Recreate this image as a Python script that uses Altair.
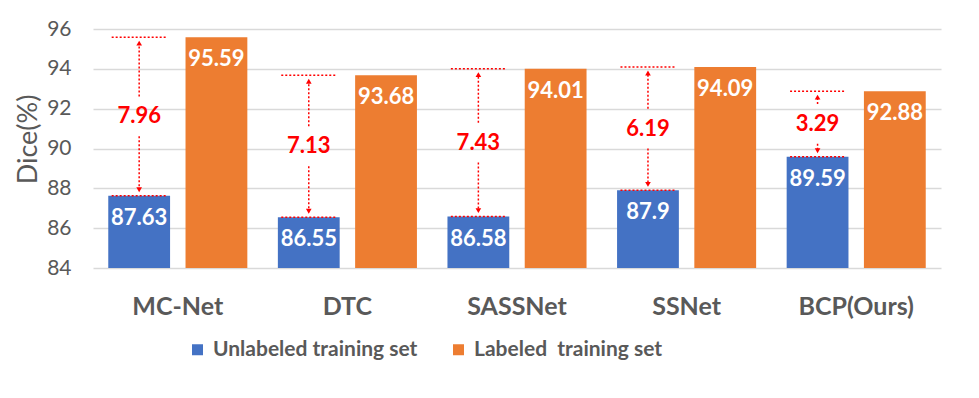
import altair as alt
import pandas as pd

# ---- data ----
methods = ["MC-Net", "DTC", "SASSNet", "SSNet", "BCP(Ours)"]
unlabeled = [87.63, 86.55, 86.58, 87.9, 89.59]
labeled = [95.59, 93.68, 94.01, 94.09, 92.88]
gap_labels = ["7.96", "7.13", "7.43", "6.19", "3.29"]
series = ["Unlabeled training set", "Labeled\u00a0 training set"]
colors = ["#4472C4", "#ED7D31"]
y_ticks = [84, 86, 88, 90, 92, 94, 96]

# ---- tables built from the arrays ----
bars = pd.DataFrame(
    [{"method": m, "series": series[0], "value": u, "txt": str(u)} for m, u in zip(methods, unlabeled)]
    + [{"method": m, "series": series[1], "value": l, "txt": str(l)} for m, l in zip(methods, labeled)]
)

GAP = 1.0      # half-height of the gap left around the red label (data units)
HEAD = 0.3     # offset of the arrow-head centre from the line (data units)
ann = pd.DataFrame({
    "method": methods,
    "series": series[0],
    "lo": unlabeled,
    "hi": labeled,
    "txt": gap_labels,
})
ann["mid"] = (ann["lo"] + ann["hi"]) / 2
ann["up_a"] = ann["mid"] + GAP
ann["up_b"] = ann["hi"] - HEAD
ann["dn_a"] = ann["mid"] - GAP
ann["dn_b"] = ann["lo"] + HEAD
ann["head_hi"] = ann["hi"] - HEAD
ann["head_lo"] = ann["lo"] + HEAD

hlines = pd.concat([
    ann[["method", "series"]].assign(val=ann["hi"]),
    ann[["method", "series"]].assign(val=ann["lo"]),
])

FONT = "Lato"
GRAY = "#595959"
RED = "#FF0000"

x_enc = alt.X(
    "method:N", sort=methods,
    scale=alt.Scale(domain=methods, paddingInner=0.18, paddingOuter=0.09),
    axis=alt.Axis(title=None, labelAngle=0, labelFontSize=25, labelFontWeight="bold",
                  labelColor=GRAY, labelFont=FONT, domain=False, ticks=False,
                  labelPadding=26, grid=False),
)
xo_enc = alt.XOffset("series:N", sort=series,
                     scale=alt.Scale(domain=series, paddingInner=0.2, paddingOuter=0))
y_scale = alt.Scale(domain=[84, 96], zero=False, nice=False)
y_axis = alt.Axis(title="Dice(%)", values=y_ticks, titleFontSize=27, titleFontWeight="normal",
                  titleColor=GRAY, titleFont=FONT, labelFontSize=21, labelColor=GRAY,
                  labelFont=FONT, domain=False, ticks=False, gridColor="#D9D9D9",
                  gridWidth=1.5, labelPadding=22, titlePadding=4, titleY=110,
                  labelOverlap=False)


def Y(field):
    return alt.Y(field, scale=y_scale, axis=y_axis)


bar_layer = alt.Chart(bars).mark_bar(clip=True).encode(
    x=x_enc, xOffset=xo_enc,
    y=Y("value:Q"),
    color=alt.Color("series:N", sort=series,
                    scale=alt.Scale(domain=series, range=colors),
                    legend=alt.Legend(title=None, orient="none", legendX=94, legendY=310,
                                      direction="horizontal", symbolType="square",
                                      symbolSize=121, symbolStrokeWidth=0,
                                      labelFontSize=21, labelFontWeight="bold",
                                      labelColor=GRAY, labelFont=FONT, labelLimit=0,
                                      columnPadding=30, labelOffset=5, padding=0)),
)

bar_text = alt.Chart(bars).mark_text(
    dy=22, color="white", font=FONT, fontWeight="bold", fontSize=22, baseline="middle"
).encode(x=x_enc, xOffset=xo_enc, y=Y("value:Q"), text="txt:N")

rule_up = alt.Chart(ann).mark_rule(color=RED, strokeDash=[2, 2], strokeWidth=1.5).encode(
    x=x_enc, xOffset=xo_enc, y=Y("up_a:Q"), y2="up_b:Q")
rule_dn = alt.Chart(ann).mark_rule(color=RED, strokeDash=[2, 2], strokeWidth=1.5).encode(
    x=x_enc, xOffset=xo_enc, y=Y("dn_a:Q"), y2="dn_b:Q")

head_up = alt.Chart(ann).mark_point(shape="triangle-up", size=32, filled=True,
                                    color=RED, opacity=1).encode(
    x=x_enc, xOffset=xo_enc, y=Y("head_hi:Q"))
head_dn = alt.Chart(ann).mark_point(shape="triangle-down", size=32, filled=True,
                                    color=RED, opacity=1).encode(
    x=x_enc, xOffset=xo_enc, y=Y("head_lo:Q"))

hline = alt.Chart(hlines).mark_point(shape="M-1,0L1,0", size=3025, filled=False,
                                     color=RED, strokeDash=[2, 2], strokeWidth=1.5,
                                     opacity=1).encode(
    x=x_enc, xOffset=xo_enc, y=Y("val:Q"))

gap_text = alt.Chart(ann).mark_text(color=RED, font=FONT, fontWeight="bold", fontSize=22,
                                    baseline="middle").encode(
    x=x_enc, xOffset=xo_enc, y=Y("mid:Q"), text="txt:N")

chart = alt.layer(bar_layer, bar_text, rule_up, rule_dn, head_up, head_dn, hline, gap_text).properties(
    width=848, height=239,
    autosize=alt.AutoSizeParams(type="none"),
    padding={"left": 85, "top": 21, "right": 30, "bottom": 122},
).configure(font=FONT).configure_view(stroke=None)

chart.save("out.html", embed_options={"renderer": "svg", "actions": False})
